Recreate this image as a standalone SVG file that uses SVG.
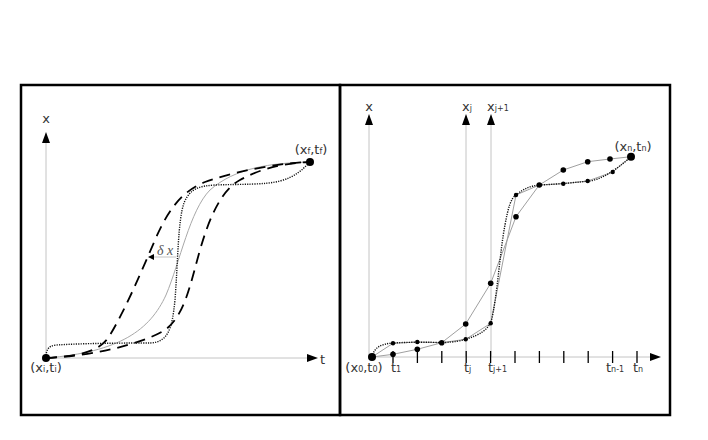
<svg xmlns="http://www.w3.org/2000/svg" width="708" height="440" viewBox="0 0 708 440">
<defs>
<style>
.frame{fill:none;stroke:#000;stroke-width:2.5}
.axis{stroke:#c4c4c4;stroke-width:1;fill:none}
.head{fill:#000}
.lbl{font-family:"DejaVu Sans",sans-serif;font-size:13px;fill:#333}
.sub{font-size:8px}
.solid{fill:none;stroke:#a8a8a8;stroke-width:1}
.dash{fill:none;stroke:#000;stroke-width:1.8;stroke-dasharray:11 7}
.dot{fill:none;stroke:#111;stroke-width:1.4;stroke-dasharray:1.2 1.2}
.poly{fill:none;stroke:#a0a0a0;stroke-width:1}
.tick{stroke:#000;stroke-width:1.3}
</style>
</defs>
<rect width="708" height="440" fill="#fff"/>
<g id="left-panel">
<rect class="frame" x="21" y="85" width="319" height="330"/>
</g>
<g id="right-panel">
<rect class="frame" x="340" y="85" width="330" height="330"/>
</g>
<g id="left-axes">
<line class="axis" x1="46" y1="358" x2="46" y2="140"/>
<polygon class="head" points="46,132 42,143 50,143"/>
<line class="axis" x1="46" y1="358" x2="310" y2="358"/>
<polygon class="head" points="318,358 307,354 307,362"/>
<text class="lbl" x="46" y="123" text-anchor="middle">x</text>
<text class="lbl" x="320" y="364">t</text>
</g>
<g id="left-curves">
<path class="solid" d="M46,358 C120,352 150,330 166,295 C180,262 190,210 210,190 C235,168 270,163 310,162"/>
<path class="dash" d="M46,358 C80,356 100,352 110,335 C125,310 140,275 155,240 C170,205 185,190 205,182 C240,170 280,163 310,162"/>
<path class="dash" d="M46,358 C90,356 140,345 165,330 C185,315 190,285 200,250 C210,215 222,190 240,180 C265,166 290,163 310,162"/>
<path class="dot" d="M46,358 C46,350 48,346 56,345 C90,343 130,343 150,343 C168,342 172,330 175,300 C178,260 178,220 184,203 C190,188 200,186 215,185 C240,184 265,185 280,181 C295,177 302,170 310,162"/>
<line class="axis" x1="176" y1="257" x2="153" y2="257"/>
<polygon class="head" points="148,257 154,254 154,260"/>
<text x="157" y="255" style="font-family:'Liberation Serif',serif;font-size:14px;font-style:italic;fill:#555">δ x</text>
</g>
<g id="left-points">
<circle cx="46" cy="358" r="4"/>
<circle cx="310" cy="162" r="4"/>
<text class="lbl" x="46" y="372" text-anchor="middle">(x<tspan class="sub">i</tspan>,t<tspan class="sub">i</tspan>)</text>
<text class="lbl" x="311" y="154" text-anchor="middle">(x<tspan class="sub">f</tspan>,t<tspan class="sub">f</tspan>)</text>
</g>
<g id="right-axes">
<line class="axis" x1="369" y1="357" x2="369" y2="122"/>
<polygon class="head" points="369,114 365,125 373,125"/>
<line class="axis" x1="466" y1="357" x2="466" y2="122"/>
<polygon class="head" points="466,114 462,125 470,125"/>
<line class="axis" x1="491" y1="357" x2="491" y2="122"/>
<polygon class="head" points="491,114 487,125 495,125"/>
<line class="axis" x1="372" y1="357" x2="652" y2="357"/>
<polygon class="head" points="661,357 650,353 650,361"/>
<text class="lbl" x="369" y="111" text-anchor="middle">x</text>
<text class="lbl" x="462" y="111">x<tspan class="sub">j</tspan></text>
<text class="lbl" x="487" y="111">x<tspan class="sub">j+1</tspan></text>
</g>
<g id="ticks">
<line class="tick" x1="393" y1="351" x2="393" y2="363"/>
<line class="tick" x1="417.4" y1="351" x2="417.4" y2="363"/>
<line class="tick" x1="441.8" y1="351" x2="441.8" y2="363"/>
<line class="tick" x1="466.2" y1="351" x2="466.2" y2="363"/>
<line class="tick" x1="490.6" y1="351" x2="490.6" y2="363"/>
<line class="tick" x1="515" y1="351" x2="515" y2="363"/>
<line class="tick" x1="539.4" y1="351" x2="539.4" y2="363"/>
<line class="tick" x1="563.8" y1="351" x2="563.8" y2="363"/>
<line class="tick" x1="588.2" y1="351" x2="588.2" y2="363"/>
<line class="tick" x1="612.6" y1="351" x2="612.6" y2="363"/>
<line class="tick" x1="637" y1="351" x2="637" y2="363"/>
</g>
<g id="right-curves">
<polyline class="poly" points="372,357 393,354.3 417.3,349.3 441.7,342.7 465.7,324 490.7,283.3 516,216.7 539.3,185 563.3,170 587.7,161.7 610,159 631,156.7"/>
<polyline class="poly" points="372,357 393,343.3 417.3,342 441.7,342.7 465.7,339.3 490.7,323.3 516,195 539.3,185 563.3,183.7 587.7,181 612.7,172 631,156.7"/>
<path class="dot" d="M372,357 C374,348 380,344 393,343 C410,342 430,342 442,342.7 C455,342 460,341 466,339 C480,335 487,330 491,322 C497,300 500,250 505,225 C508,208 511,198 516,195 C525,188 530,186 540,185 C560,184 580,182 590,181 C605,178 615,170 631,157"/>
</g>
<g id="right-points">
<circle cx="393" cy="354.3" r="2.8"/>
<circle cx="417.3" cy="349.3" r="2.8"/>
<circle cx="441.7" cy="342.7" r="2.8"/>
<circle cx="465.7" cy="324" r="2.8"/>
<circle cx="490.7" cy="283.3" r="2.8"/>
<circle cx="516" cy="216.7" r="2.8"/>
<circle cx="539.3" cy="185" r="2.8"/>
<circle cx="563.3" cy="170" r="2.8"/>
<circle cx="587.7" cy="161.7" r="2.8"/>
<circle cx="610" cy="159" r="2.8"/>
<circle cx="393" cy="343.3" r="2.2"/>
<circle cx="417.3" cy="342" r="2.2"/>
<circle cx="465.7" cy="339.3" r="2.2"/>
<circle cx="490.7" cy="323.3" r="2.2"/>
<circle cx="516" cy="195" r="2.2"/>
<circle cx="563.3" cy="183.7" r="2.2"/>
<circle cx="587.7" cy="181" r="2.2"/>
<circle cx="612.7" cy="172" r="2.2"/>
<circle cx="372" cy="357" r="4"/>
<circle cx="631" cy="156.7" r="4"/>
</g>
<g id="right-labels">
<text class="lbl" x="364" y="372" text-anchor="middle">(x<tspan class="sub">0</tspan>,t<tspan class="sub">0</tspan>)</text>
<text class="lbl" x="633" y="151" text-anchor="middle">(x<tspan class="sub">n</tspan>,t<tspan class="sub">n</tspan>)</text>
<text class="lbl" x="391" y="372">t<tspan class="sub">1</tspan></text>
<text class="lbl" x="464" y="372">t<tspan class="sub">j</tspan></text>
<text class="lbl" x="488" y="372">t<tspan class="sub">j+1</tspan></text>
<text class="lbl" x="606" y="372">t<tspan class="sub">n-1</tspan></text>
<text class="lbl" x="633" y="372">t<tspan class="sub">n</tspan></text>
</g>
</svg>
